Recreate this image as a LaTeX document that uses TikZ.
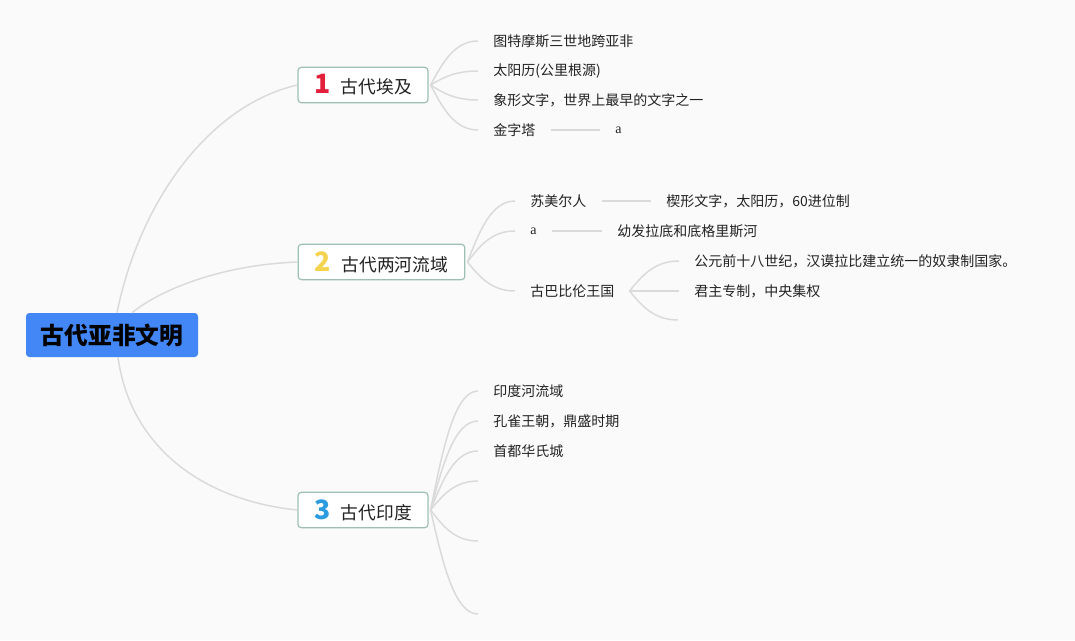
\documentclass[tikz,border=0pt]{standalone}
\usepackage{fontspec}
\setmainfont{Noto Sans CJK SC}
\newfontfamily\latinserif{Liberation Serif}
\usetikzlibrary{calc}
\definecolor{bgcol}{HTML}{FAFAFA}
\definecolor{centralblue}{HTML}{4287F5}
\definecolor{topicborder}{HTML}{9DBFB5}
\definecolor{linecol}{HTML}{DADADA}
\definecolor{textcol}{HTML}{222222}
\definecolor{numred}{HTML}{E3203B}
\definecolor{numyellow}{HTML}{F4D34E}
\definecolor{numblue}{HTML}{2C9BDF}
\tikzset{
  central/.style={fill=centralblue, rounded corners=2.5pt, minimum width=129pt, minimum height=33pt,
    inner sep=0pt, font=\fontsize{17.8}{20}\selectfont\bfseries, text=black},
  topic/.style={draw=topicborder, fill=white, rounded corners=2.5pt, line width=0.9pt,
    minimum height=26.5pt, inner sep=0pt, font=\fontsize{13.3}{15}\selectfont, text=textcol},
  leaf/.style={anchor=west, inner xsep=11.25pt, inner ysep=2pt, font=\fontsize{10.5}{12}\selectfont, text=textcol},
  mainline/.style={draw=linecol, line width=1.1pt},
  conn/.style={draw=linecol, line width=1.1pt,
    to path={let \p1=(\tikztostart), \p2=(\tikztotarget) in
      .. controls ({\x1+0.25*(\x2-\x1)},{\y1+0.5*(\y2-\y1)}) and ({\x1+0.5*(\x2-\x1)},\y2) .. (\tikztotarget)}}
}
\newcommand{\tnum}[2]{{\fontsize{20}{20}\selectfont\bfseries\color{#1}#2}\hspace{8pt}}
\begin{document}
\begin{tikzpicture}[x=0.75pt,y=-0.75pt]
\fill[bgcol] (0,0) rectangle (1075,640);
\useasboundingbox (0,0) rectangle (1075,640);

% central and main topics
\node[central] (c) at (112,335) {古代亚非文明};
\node[topic, minimum width=97.5pt] (eg) at (363,85) {\tnum{numred}{1}古代埃及};
\node[topic, minimum width=125pt] (me) at (381.5,262) {\tnum{numyellow}{2}古代两河流域};
\node[topic, minimum width=97.5pt] (in) at (363,510) {\tnum{numblue}{3}古代印度};

\coordinate (cN1) at ($(c.north)+(5,0)$);
\coordinate (cN2) at ($(c.north)+(20,0)$);
\coordinate (cS1) at ($(c.south)+(6,0)$);
\draw[mainline] (cN1) .. controls (140,200) and (210,105) .. (eg.west);
\draw[mainline] (cN2) .. controls (160,290) and (220,265) .. (me.west);
\draw[mainline] (cS1) .. controls (130,445) and (200,500) .. (in.west);

\coordinate (egR) at ($(eg.east)+(2,0)$);
\coordinate (meR) at ($(me.east)+(2,0)$);
\coordinate (inR) at ($(in.east)+(2,0)$);

% Egypt
\node[leaf] (e1) at (478,41) {图特摩斯三世地跨亚非};
\node[leaf] (e2) at (478,71) {太阳历(公里根源)};
\node[leaf] (e3) at (478,100) {象形文字，世界上最早的文字之一};
\node[leaf] (e4) at (478,130) {金字塔};
\node[leaf] (e4a) at (e4.east -| 600,0) {\latinserif a};
\foreach \k in {e1,e2,e3,e4} \draw[conn] (egR) to (\k.west);
\draw[mainline] (e4.east) -- (e4a.west);

% Mesopotamia
\node[leaf] (m1) at (515,201) {苏美尔人};
\node[leaf] (m1a) at (651,201) {楔形文字，太阳历，60进位制};
\node[leaf] (m2) at (515,231) {\latinserif a};
\node[leaf] (m2a) at (m2.east -| 602,0) {幼发拉底和底格里斯河};
\node[leaf] (m3) at (515,291) {古巴比伦王国};
\node[leaf] (m31) at (679,261) {公元前十八世纪，汉谟拉比建立统一的奴隶制国家。};
\node[leaf] (m32) at (679,291) {君主专制，中央集权};
\coordinate (m33) at (678,320);
\coordinate (m3R) at (m3.east);
\foreach \k in {m1,m2,m3} \draw[conn] (meR) to (\k.west);
\draw[mainline] (m1.east) -- (m1a.west);
\draw[mainline] (m2.east) -- (m2a.west);
\draw[conn] (m3R) to (m31.west);
\draw[conn] (m3R) to (m32.west);
\draw[conn] (m3R) to (m33);

% India
\node[leaf] (i1) at (478,391) {印度河流域};
\node[leaf] (i2) at (478,421) {孔雀王朝，鼎盛时期};
\node[leaf] (i3) at (478,451) {首都华氏城};
\coordinate (i4) at (478,481);
\coordinate (i5) at (478,541);
\coordinate (i6) at (478,614);
\foreach \k in {i1,i2,i3} \draw[conn] (inR) to (\k.west);
\foreach \k in {i4,i5,i6} \draw[conn] (inR) to (\k);
\end{tikzpicture}
\end{document}
